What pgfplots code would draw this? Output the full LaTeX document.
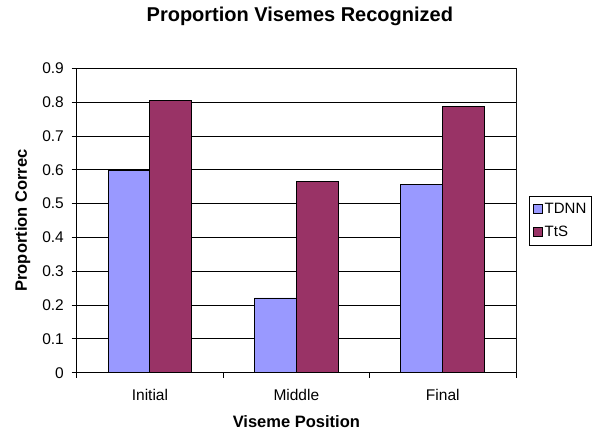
\documentclass[border=0pt]{standalone}
\usepackage{pgfplots}
\pgfplotsset{compat=1.18}
\usepackage{fontspec}
\setmainfont{Liberation Sans}
\definecolor{tdnn}{HTML}{9999FF}
\definecolor{tts}{HTML}{993366}
\definecolor{bordergray}{HTML}{808080}
\begin{document}
\begin{tikzpicture}
\path[use as bounding box] (0,0) rectangle (603pt,432pt);
\begin{axis}[
  at={(76.7pt,59.3pt)}, anchor=south west,
  scale only axis, width=439.3pt, height=304.4pt,
  xmin=-0.5, xmax=2.5, ymin=0, ymax=0.9,
  xtick={0,1,2}, xticklabels={Initial,Middle,Final},
  major x tick style={draw=none},
  minor xtick={-0.5,0.5,1.5,2.5},
  minor x tick style={draw=black, line width=0.8pt},
  ytick={0,0.1,0.2,0.3,0.4,0.5,0.6,0.7,0.8,0.9},
  yticklabels={0,0.1,0.2,0.3,0.4,0.5,0.6,0.7,0.8,0.9},
  xtick pos=bottom, ytick pos=left, tick align=outside,
  major tick length=5pt, minor tick length=5pt,
  y tick style={draw=black, line width=0.8pt},
  ymajorgrids, major grid style={draw=black, line width=0.8pt},
  axis line style={draw=black, line width=0.8pt},
  tick label style={font=\fontsize{15.5}{18}\selectfont},
  xticklabel style={anchor=center, yshift=-17.3pt},
  yticklabel style={anchor=east, inner sep=0pt, xshift=-7.7pt},
  xlabel={Viseme Position},
  ylabel={Proportion Correc},
  label style={font=\bfseries\fontsize{16.5}{19}\selectfont},
  xlabel style={at={(axis description cs:0.5,-0.161)}, anchor=center},
  ylabel style={at={(axis description cs:-0.1230,0.5)}, anchor=center, rotate=0},
  title={Proportion Visemes Recognized},
  every axis title shift=0pt,
  title style={font=\bfseries\fontsize{20}{24}\selectfont, at={(axis description cs:0.508,1.172)}, anchor=center, yshift=0pt},
  legend style={at={(1.0303,0.5)}, anchor=west, draw=black, line width=0.6pt,
    font=\fontsize{15}{18}\selectfont, inner xsep=3pt, inner ysep=5pt, row sep=7pt,
    /tikz/every even column/.append style={column sep=0pt}},
  legend cell align=left,
  legend image code/.code={\draw[#1, line width=0.6pt] (0pt,-4.7pt) rectangle (9.5pt,4.7pt);},
]
\addplot[ybar, bar width=0.285714, bar shift=-0.142857, fill=tdnn, draw=black, line width=0.9pt]
  coordinates {(0,0.598) (1,0.221) (2,0.557)};
\addplot[ybar, bar width=0.285714, bar shift=0.142857, fill=tts, draw=black, line width=0.9pt]
  coordinates {(0,0.804) (1,0.564) (2,0.788)};
\legend{TDNN,TtS}
\draw[bordergray, line width=0.8pt] (rel axis cs:1,0) -- (rel axis cs:1,1);
\end{axis}
\end{tikzpicture}
\end{document}
